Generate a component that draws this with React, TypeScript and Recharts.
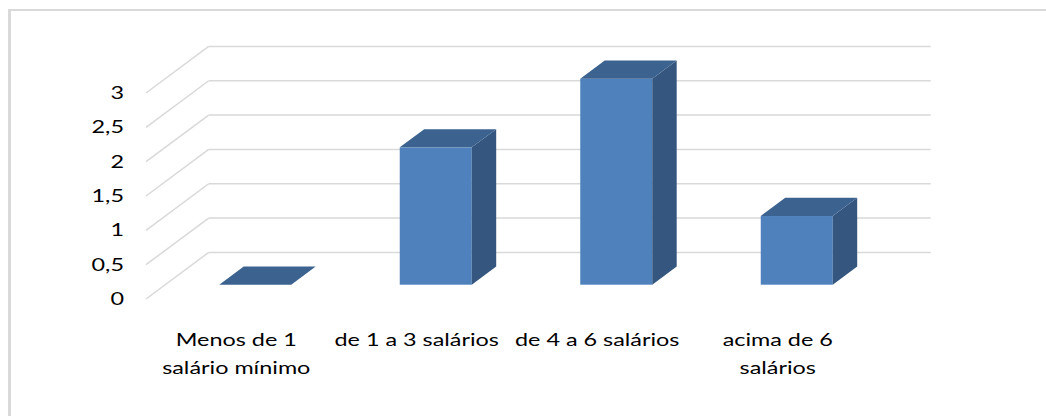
import React from "react";
import { BarChart, Bar, XAxis, YAxis, CartesianGrid } from "recharts";

// categories and values
const categories = [
  "Menos de 1 salário mínimo",
  "de 1 a 3 salários",
  "de 4 a 6 salários",
  "acima de 6 salários",
];
// how Excel broke the category labels
const categoryLines = [
  ["Menos de 1", "salário mínimo"],
  ["de 1 a 3 salários"],
  ["de 4 a 6 salários"],
  ["acima de 6", "salários"],
];
const values = [0, 2, 3, 1];
const yTicks = [0, 0.5, 1, 1.5, 2, 2.5, 3];

const chartData = categories.map((name, i) => ({ name, value: values[i] }));

// fake 3D: wall offset (front -> back) and bar placement in depth
const WALL_DX = 62.7;
const WALL_DY = -46.6;
const BAR_SHIFT = 0.307; // bar front sits this far into the floor
const BAR_DEPTH = 0.39;

const FONT = "Lato, 'Open Sans', sans-serif";
const STRETCH = 1.3;

const frontColor = "#4F81BD";
const sideColor = "#34567F";
const topColor = "#3C6390";
const gridColor = "#D9D9D9";

function GridLine(props: any) {
  const { x1, y1, x2, y2 } = props;
  return (
    <g>
      <line x1={x1} y1={y1} x2={x1 + WALL_DX} y2={y1 + WALL_DY} stroke={gridColor} strokeWidth={1.5} />
      <line
        x1={x1 + WALL_DX}
        y1={y1 + WALL_DY}
        x2={x2 + WALL_DX}
        y2={y2 + WALL_DY}
        stroke={gridColor}
        strokeWidth={1.5}
      />
    </g>
  );
}

function Bar3D(props: any) {
  const { x, y, width, height } = props;
  const fx = x + WALL_DX * BAR_SHIFT;
  const fy = y + WALL_DY * BAR_SHIFT;
  const h = Math.max(height || 0, 0);
  const ddx = WALL_DX * BAR_DEPTH;
  const ddy = WALL_DY * BAR_DEPTH;
  return (
    <g>
      {h > 0 && <rect x={fx} y={fy} width={width} height={h} fill={frontColor} />}
      {h > 0 && (
        <polygon
          points={`${fx + width},${fy} ${fx + width + ddx},${fy + ddy} ${fx + width + ddx},${fy + h + ddy} ${fx + width},${fy + h}`}
          fill={sideColor}
        />
      )}
      <polygon
        points={`${fx},${fy} ${fx + ddx},${fy + ddy} ${fx + width + ddx},${fy + ddy} ${fx + width},${fy}`}
        fill={topColor}
      />
    </g>
  );
}

function YTick(props: any) {
  const { x, y, payload } = props;
  const label = String(payload.value).replace(".", ",");
  return (
    <g transform={`translate(${x},${y}) scale(${STRETCH},1)`}>
      <text x={0} y={0} dy={6} textAnchor="end" fontFamily={FONT} fontSize={18} fill="#000">
        {label}
      </text>
    </g>
  );
}

function XTick(props: any) {
  const { x, y, index } = props;
  const lines = categoryLines[index] || [];
  return (
    <g transform={`translate(${x},${y}) scale(${STRETCH},1)`}>
      {lines.map((ln, i) => (
        <text key={i} x={0} y={47 + i * 28.5} textAnchor="middle" fontFamily={FONT} fontSize={18} fill="#000">
          {ln}
        </text>
      ))}
    </g>
  );
}

export default function App() {
  return (
    <div
      style={{
        position: "fixed",
        left: 0,
        top: 0,
        width: 1046,
        height: 416,
        overflow: "hidden",
        background: "#fff",
      }}
    >
      <div
        style={{
          position: "absolute",
          left: 8,
          top: 9,
          width: 2000,
          height: 1000,
          borderLeft: "3px solid #D9D9D9",
          borderTop: "2px solid #D9D9D9",
        }}
      />
      <div style={{ position: "absolute", left: 0, top: 0 }}>
        <BarChart
          width={1046}
          height={416}
          data={chartData}
          barSize={72}
          margin={{ top: 93, right: 178, left: 0, bottom: 57 }}
        >
          <CartesianGrid vertical={false} horizontal={(p: any) => <GridLine {...p} />} />
          <XAxis
            dataKey="name"
            height={60}
            axisLine={false}
            tickLine={false}
            tickSize={0}
            tickMargin={0}
            interval={0}
            tick={<XTick />}
          />
          <YAxis
            width={146}
            domain={[0, 3]}
            ticks={yTicks}
            axisLine={false}
            tickLine={false}
            tickSize={0}
            tickMargin={22}
            tick={<YTick />}
          />
          <Bar dataKey="value" isAnimationActive={false} shape={<Bar3D />} />
        </BarChart>
      </div>
    </div>
  );
}
